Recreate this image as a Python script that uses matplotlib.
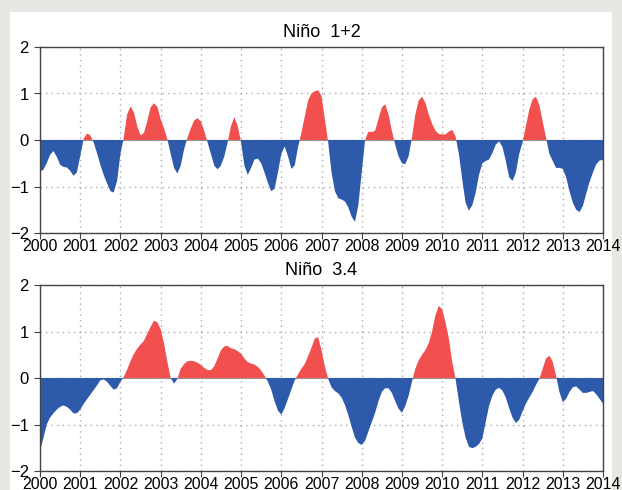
import numpy as np
import matplotlib
matplotlib.use("Agg")
import matplotlib.pyplot as plt
from matplotlib.patches import Rectangle

start_year = 2000
years = list(range(2000, 2015))

nino12 = [
    -0.68, -0.64, -0.50, -0.32, -0.24, -0.36, -0.53, -0.58, -0.59, -0.66, -0.77, -0.70,
    -0.35, 0.02, 0.14, 0.10, -0.05, -0.28, -0.53, -0.75, -0.93, -1.10, -1.13, -0.88,
    -0.30, 0.05, 0.55, 0.72, 0.60, 0.30, 0.10, 0.15, 0.40, 0.70, 0.79, 0.72,
    0.45, 0.25, 0.02, -0.30, -0.60, -0.72, -0.55, -0.20, 0.05, 0.25, 0.42, 0.47,
    0.40, 0.20, -0.05, -0.30, -0.55, -0.63, -0.55, -0.35, -0.05, 0.30, 0.49, 0.30,
    -0.05, -0.55, -0.75, -0.60, -0.42, -0.40, -0.50, -0.70, -0.92, -1.10, -1.05, -0.70,
    -0.30, -0.14, -0.35, -0.62, -0.55, -0.15, 0.15, 0.50, 0.85, 1.00, 1.05, 1.07,
    0.95, 0.45, -0.05, -0.70, -1.10, -1.25, -1.28, -1.32, -1.45, -1.65, -1.76, -1.40,
    -0.70, 0.00, 0.18, 0.17, 0.20, 0.45, 0.70, 0.77, 0.55, 0.20, -0.10, -0.35,
    -0.50, -0.52, -0.35, 0.05, 0.55, 0.85, 0.93, 0.80, 0.55, 0.35, 0.20, 0.13,
    0.12, 0.12, 0.18, 0.22, 0.08, -0.30, -0.85, -1.35, -1.52, -1.40, -1.14, -0.75,
    -0.50, -0.45, -0.42, -0.28, -0.10, -0.03, -0.15, -0.45, -0.80, -0.88, -0.70, -0.30,
    -0.05, 0.30, 0.65, 0.88, 0.93, 0.75, 0.40, 0.05, -0.30, -0.45, -0.60, -0.60,
    -0.62, -0.80, -1.10, -1.35, -1.50, -1.55, -1.42, -1.15, -0.90, -0.70, -0.52, -0.44,
    -0.43,
]

nino34 = [
    -1.57, -1.30, -1.00, -0.85, -0.76, -0.68, -0.62, -0.59, -0.62, -0.68, -0.76, -0.76,
    -0.68, -0.56, -0.46, -0.36, -0.26, -0.16, -0.05, -0.03, -0.08, -0.17, -0.25, -0.22,
    -0.08, 0.02, 0.18, 0.36, 0.52, 0.63, 0.72, 0.80, 0.95, 1.10, 1.23, 1.20,
    1.05, 0.75, 0.35, 0.00, -0.12, -0.02, 0.20, 0.30, 0.36, 0.37, 0.36, 0.33,
    0.28, 0.22, 0.17, 0.17, 0.25, 0.42, 0.60, 0.68, 0.69, 0.64, 0.62, 0.58,
    0.52, 0.42, 0.34, 0.31, 0.29, 0.24, 0.16, 0.05, -0.08, -0.25, -0.50, -0.70,
    -0.79, -0.65, -0.45, -0.25, -0.05, 0.08, 0.20, 0.30, 0.47, 0.65, 0.85, 0.88,
    0.60, 0.25, -0.02, -0.20, -0.28, -0.33, -0.42, -0.58, -0.80, -1.05, -1.28, -1.40,
    -1.44, -1.35, -1.15, -0.95, -0.75, -0.50, -0.30, -0.22, -0.22, -0.32, -0.50, -0.66,
    -0.75, -0.60, -0.38, -0.08, 0.20, 0.38, 0.50, 0.60, 0.75, 1.00, 1.35, 1.55,
    1.48, 1.20, 0.85, 0.35, -0.02, -0.50, -0.95, -1.28, -1.48, -1.51, -1.48, -1.42,
    -1.30, -0.95, -0.60, -0.38, -0.25, -0.21, -0.27, -0.42, -0.65, -0.85, -0.97, -0.90,
    -0.72, -0.55, -0.42, -0.30, -0.15, -0.02, 0.20, 0.42, 0.48, 0.35, 0.05, -0.30,
    -0.52, -0.45, -0.30, -0.20, -0.18, -0.25, -0.32, -0.32, -0.30, -0.28, -0.35, -0.45,
    -0.55,
]

titles = ["Niño  1+2", "Niño  3.4"]
y_ticks = [-2, -1, 0, 1, 2]

RED = "#f24f4f"
BLUE = "#2e5aab"

plt.rcParams["font.family"] = ["Liberation Sans", "DejaVu Sans"]

fig = plt.figure(figsize=(6.22, 4.90), dpi=100)
fig.patch.set_facecolor("#e9e7e3")
bg = Rectangle((10 / 622, 0), 602 / 622, 478 / 490,
               transform=fig.transFigure, facecolor="white",
               edgecolor="none", zorder=-10)
fig.patches.append(bg)

axes_rects = [
    [40 / 622, (490 - 233) / 490, 563 / 622, 186 / 490],
    [40 / 622, (490 - 471) / 490, 563 / 622, 186 / 490],
]

for rect, data, title in zip(axes_rects, [nino12, nino34], titles):
    ax = fig.add_axes(rect, zorder=1)
    ax.patch.set_alpha(0)
    y = np.array(data)
    x = start_year + np.arange(len(y)) / 12.0
    ax.fill_between(x, 0, y, where=y >= 0, interpolate=True,
                    facecolor=RED, edgecolor="none", zorder=3)
    ax.fill_between(x, 0, y, where=y <= 0, interpolate=True,
                    facecolor=BLUE, edgecolor="none", zorder=3)
    ax.axhline(0, color="#999999", lw=0.8, zorder=2)
    ax.set_xlim(2000, 2014)
    ax.set_ylim(-2, 2)
    ax.set_xticks(years)
    ax.set_xticklabels([str(v) for v in years])
    ax.set_yticks(y_ticks)
    ax.set_yticklabels([str(v).replace("-", "\u2212") for v in y_ticks])
    ax.grid(True, color="#aaaaaa", linestyle=(0, (1, 3)), lw=1.0, zorder=1)
    ax.set_axisbelow(True)
    for s in ax.spines.values():
        s.set_color("#444444")
        s.set_linewidth(1.0)
        s.set_zorder(5)
    ax.tick_params(axis="x", direction="out", length=4, width=0.8,
                   color="#444444", labelsize=11.5, pad=0.5)
    ax.tick_params(axis="y", direction="out", length=4, width=0.8,
                   color="#444444", labelsize=12, pad=4)
    ax.set_title(title, fontsize=13, pad=7)

fig.savefig("out.png", dpi=100, facecolor=fig.get_facecolor())
